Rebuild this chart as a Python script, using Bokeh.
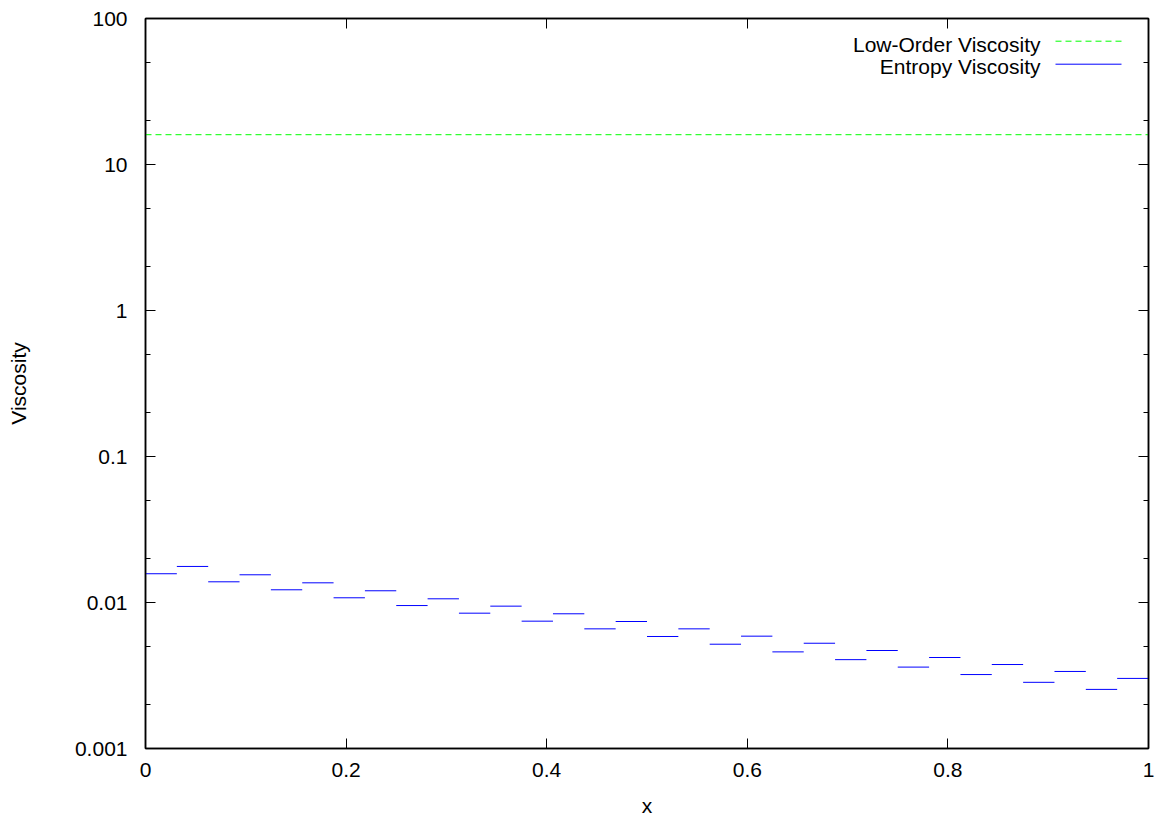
import numpy as np
from bokeh.plotting import figure
from bokeh.models import (FixedTicker, LinearAxis, LogAxis, Label, Arrow, Range1d)
from bokeh.embed import file_html
from bokeh.resources import INLINE

# ---- data ----
n_cells = 32
entropy_visc = [0.01574, 0.01766, 0.01386, 0.01548, 0.01222, 0.01364, 0.01077, 0.01203,
                0.00953, 0.01060, 0.00845, 0.00944, 0.00745, 0.00837, 0.00660, 0.00741,
                0.00585, 0.00660, 0.00518, 0.00588, 0.00459, 0.00526, 0.00406, 0.00469,
                0.00361, 0.00420, 0.00321, 0.00376, 0.00284, 0.00337, 0.00254, 0.00302]
low_order_x = [0.0, 1.0]
low_order_visc = [16.0, 16.0]
x_ticks = [0, 0.2, 0.4, 0.6, 0.8, 1.0]
x_tick_labels = ["0", "0.2", "0.4", "0.6", "0.8", "1"]
y_ticks = [0.001, 0.01, 0.1, 1, 10, 100]
y_tick_labels = ["0.001", "0.01", "0.1", "1", "10", "100"]
y_minor = [0.002, 0.005, 0.02, 0.05, 0.2, 0.5, 2, 5, 20, 50]

edges = np.linspace(0.0, 1.0, n_cells + 1)
x0 = edges[:-1]
x1 = edges[1:]

FONT = "Liberation Sans"
FS = "21px"

p = figure(width=1164, height=822, y_axis_type="log",
           x_range=Range1d(0, 1), y_range=Range1d(0.001, 100),
           output_backend="svg", toolbar_location=None,
           min_border_left=145, min_border_right=16,
           min_border_top=18, min_border_bottom=74)
p.background_fill_color = "white"
p.border_fill_color = "white"
p.grid.visible = False
p.outline_line_color = "black"
p.outline_line_width = 1.5

p.line(low_order_x, low_order_visc, line_color="#00ff00", line_width=1, line_dash="6 4")
p.segment(x0=x0, y0=entropy_visc, x1=x1, y1=entropy_visc, line_color="#0000ff", line_width=1)

def style(ax, labels=True):
    ax.axis_line_color = "black"
    ax.axis_line_width = 1.5
    ax.major_tick_in = 10
    ax.major_tick_out = 0
    ax.minor_tick_in = 5
    ax.minor_tick_out = 0
    ax.major_tick_line_color = "black"
    ax.minor_tick_line_color = "black"
    ax.major_label_text_font = FONT
    ax.major_label_text_font_size = FS
    ax.major_label_text_color = "black"
    ax.axis_label_text_font = FONT
    ax.axis_label_text_font_size = FS
    ax.axis_label_text_font_style = "normal"
    ax.axis_label_text_color = "black"
    if not labels:
        ax.major_label_text_font_size = "0px"
        ax.major_label_text_color = None
        ax.major_label_standoff = 0

xt = FixedTicker(ticks=x_ticks, minor_ticks=[])
yt = FixedTicker(ticks=y_ticks, minor_ticks=y_minor)

xa = p.xaxis[0]
xa.ticker = xt
xa.major_label_overrides = {t: l for t, l in zip(x_ticks, x_tick_labels)}
style(xa)
xa.axis_label = "x"
xa.major_label_standoff = 14
xa.axis_label_standoff = 14

ya = p.yaxis[0]
ya.ticker = yt
ya.major_label_overrides = {t: l for t, l in zip(y_ticks, y_tick_labels)}
style(ya)
ya.axis_label = "Viscosity"
ya.major_label_standoff = 18
ya.axis_label_standoff = 42

top = LinearAxis(ticker=FixedTicker(ticks=x_ticks, minor_ticks=[]))
style(top, labels=False)
p.add_layout(top, "above")
right = LogAxis(ticker=FixedTicker(ticks=y_ticks, minor_ticks=y_minor))
style(right, labels=False)
p.add_layout(right, "right")

# ---- key (gnuplot style: text then sample) ----
def px_to_x(px):
    return (px - 145) / 1003.0

def py_to_y(py):
    return 10 ** (2 - (py - 18) / 146.0)

p.add_layout(Label(x=px_to_x(1040), y=py_to_y(44), text="Low-Order Viscosity",
                   text_align="right", text_baseline="middle",
                   text_font=FONT, text_font_size=FS, text_color="black"))
p.add_layout(Label(x=px_to_x(1040), y=py_to_y(66), text="Entropy Viscosity",
                   text_align="right", text_baseline="middle",
                   text_font=FONT, text_font_size=FS, text_color="black"))
p.add_layout(Arrow(end=None, x_start=px_to_x(1055), y_start=py_to_y(40.7),
                   x_end=px_to_x(1121), y_end=py_to_y(40.7),
                   line_color="#00ff00", line_width=1, line_dash="6 4"))
p.add_layout(Arrow(end=None, x_start=px_to_x(1055), y_start=py_to_y(63.7),
                   x_end=px_to_x(1121), y_end=py_to_y(63.7),
                   line_color="#0000ff", line_width=1))

open("out.html", "w").write(file_html(p, INLINE))
